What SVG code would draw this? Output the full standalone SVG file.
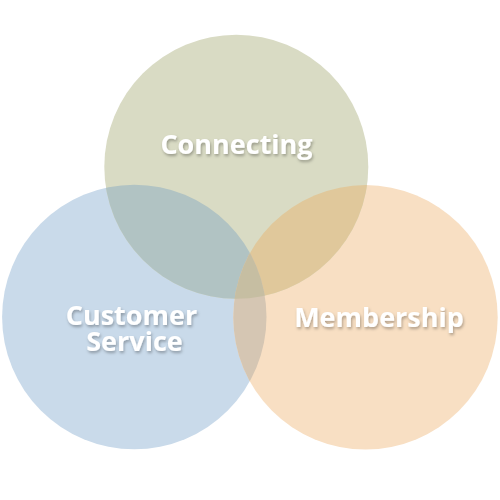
<svg xmlns="http://www.w3.org/2000/svg" width="500" height="500" viewBox="0 0 500 500">
<defs>
<filter id="sh" x="-20%" y="-40%" width="140%" height="180%">
<feDropShadow dx="1" dy="2" stdDeviation="1.5" flood-color="#000" flood-opacity="0.3"/>
</filter>
<clipPath id="cTop"><circle cx="236.3" cy="166.7" r="132"/></clipPath>
<clipPath id="cLeft"><circle cx="134.3" cy="317" r="132.2"/></clipPath>
<clipPath id="cRight"><circle cx="365.5" cy="317.3" r="132.2"/></clipPath>
</defs>
<style>
.t{font-family:"Open Sans","Liberation Sans",sans-serif;font-weight:bold;font-size:27px;fill:#fff;text-anchor:middle;filter:url(#sh)}
</style>
<rect width="500" height="500" fill="#fff"/>
<g id="customer-service"><circle cx="134.3" cy="317" r="132.2" fill="#C9DAEA"/></g>
<g id="membership"><circle cx="365.5" cy="317.3" r="132.2" fill="#F8DFC3"/></g>
<g id="connecting"><circle cx="236.3" cy="166.7" r="132" fill="#D9DBC4"/></g>
<g id="overlaps">
<circle cx="236.3" cy="166.7" r="132" fill="#B1C3C3" clip-path="url(#cLeft)"/>
<circle cx="236.3" cy="166.7" r="132" fill="#E0C89B" clip-path="url(#cRight)"/>
<circle cx="134.3" cy="317" r="132.2" fill="#D5C6B3" clip-path="url(#cRight)"/>
<g clip-path="url(#cTop)"><circle cx="134.3" cy="317" r="132.2" fill="#C6BEA2" clip-path="url(#cRight)"/></g>
</g>
<g id="labels">
<text class="t" x="236.5" y="154">Connecting</text>
<text class="t" x="131.5" y="325">Customer</text>
<text class="t" x="134.5" y="351">Service</text>
<text class="t" x="379" y="327">Membership</text>
</g>
</svg>
